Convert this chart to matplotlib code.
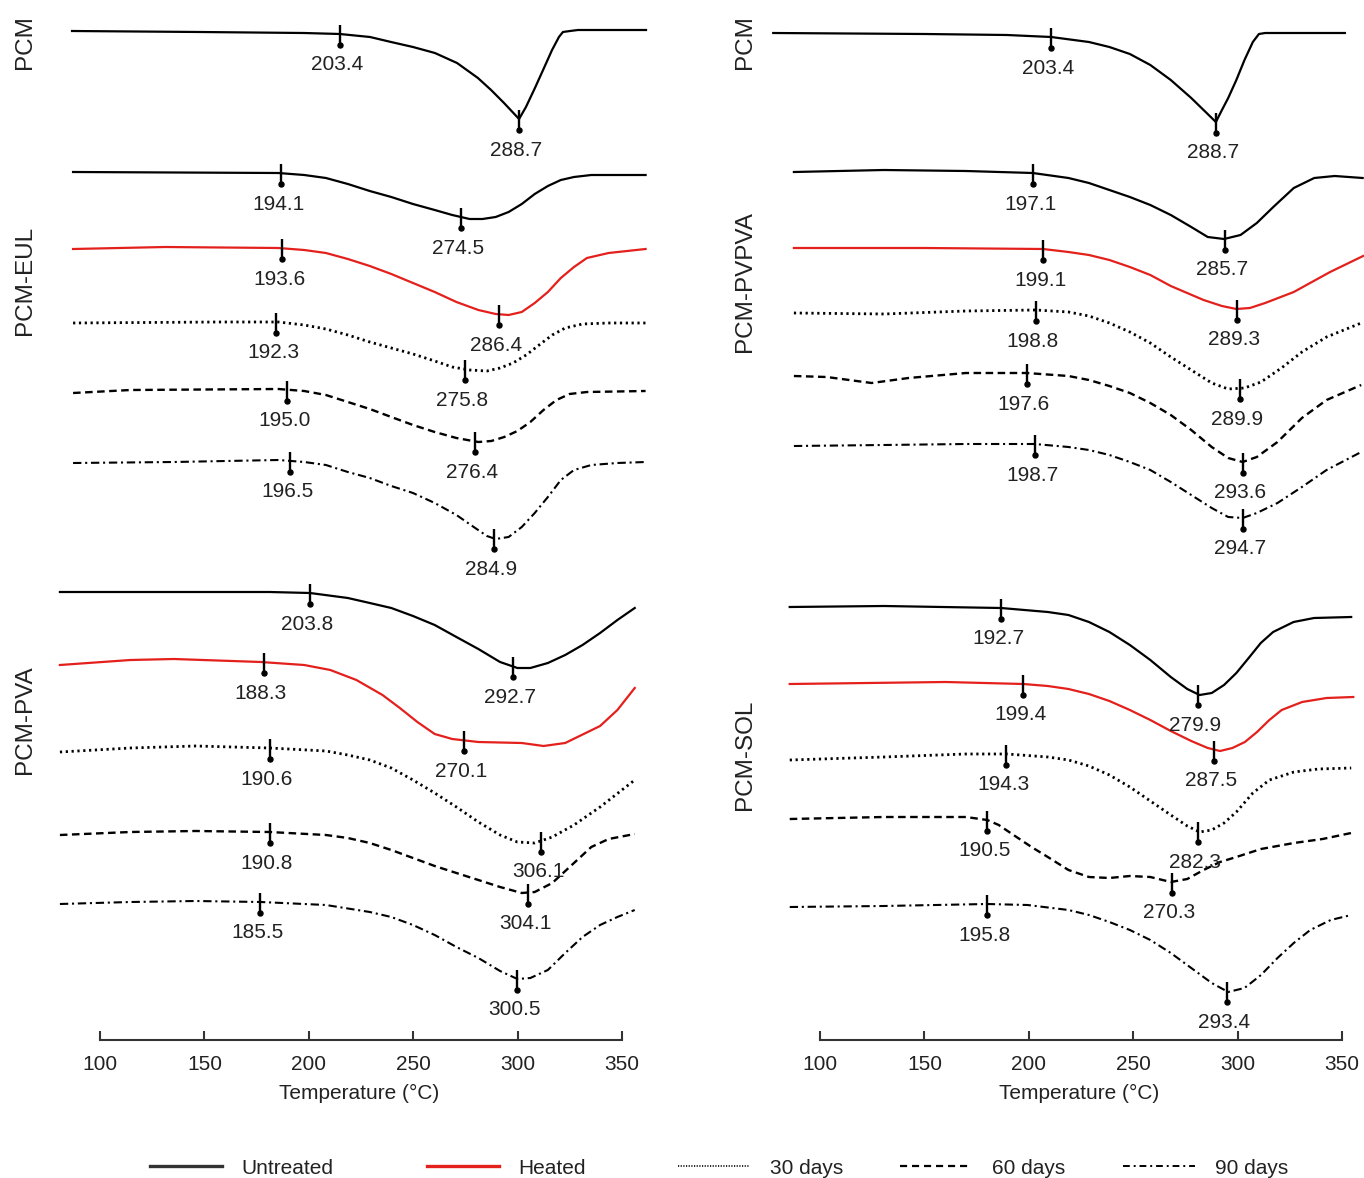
import numpy as np
import matplotlib
matplotlib.use("Agg")
import matplotlib.pyplot as plt
from matplotlib.lines import Line2D

plt.rcParams['font.family'] = ['Liberation Sans', 'DejaVu Sans']

# ---------------- data ----------------
# temperatures in degC, heat flow in a.u. (relative to each curve's start)
series_names = ["Untreated", "Heated", "30 days", "60 days", "90 days"]

# left column, top: PCM
pcm_l_T = [86.6, 147.9, 197.7, 214.9, 229.3, 239.4, 249.9, 260.4, 271.0, 281.0, 287.3, 293.5, 300.7,
           304.0, 308.3, 312.2, 316.5, 319.8, 321.7, 325.1, 328.9, 361.5]
pcm_l_hf = [0, -1, -2, -3, -6, -11, -16, -22, -32, -47, -59, -72, -88,
            -76, -57, -39, -19, -6, -1, 0, 1, 1]

# PCM-EUL
eul_untreated_T = [87.1, 185.4, 197.8, 208.2, 218.7, 229.2, 239.5, 249.9, 260.3, 268.7, 277.0, 283.2, 289.5,
                   295.7, 302.0, 308.2, 314.5, 320.7, 327.0, 335.3, 361.3]
eul_untreated_hf = [0, -1, -3, -6, -12, -19, -25, -32, -38, -43, -47, -47, -45,
                    -40, -32, -22, -14, -8, -5, -3, -3]
eul_heated_T = [87.1, 131.2, 185.4, 197.8, 208.2, 218.7, 229.2, 239.5, 249.9, 260.3, 270.7, 281.2, 289.5,
                295.7, 302.0, 308.2, 314.5, 320.7, 327.0, 333.2, 343.6, 361.3]
eul_heated_hf = [0, 2, 1, -1, -4, -10, -17, -25, -34, -43, -53, -61, -65,
                 -66, -63, -54, -43, -29, -18, -9, -4, 0]
eul_30d_T = [87.1, 156.2, 185.4, 197.8, 208.2, 218.7, 229.2, 239.5, 249.9, 260.3, 268.7, 277.0, 285.3,
             291.6, 297.8, 304.1, 310.3, 316.6, 322.8, 331.1, 343.6, 361.3]
eul_30d_hf = [0, 1, 1, -2, -6, -12, -19, -25, -31, -38, -44, -47, -48,
              -45, -40, -32, -22, -12, -5, -1, 0, 0]
eul_60d_T = [87.1, 114.6, 185.4, 197.8, 208.2, 218.7, 229.2, 239.5, 249.9, 260.3, 270.7, 281.2, 287.4,
             293.6, 299.9, 306.1, 312.4, 318.6, 324.9, 333.2, 361.3]
eul_60d_hf = [0, 3, 4, 2, -2, -9, -16, -24, -32, -39, -45, -49, -48,
              -44, -38, -29, -17, -7, -1, 1, 2]
eul_90d_T = [87.1, 135.4, 185.4, 197.8, 208.2, 218.7, 229.2, 239.5, 249.9, 260.3, 270.7, 279.0, 285.3,
             289.5, 295.7, 302.0, 308.2, 314.5, 320.7, 327.0, 335.3, 347.8, 361.3]
eul_90d_hf = [0, 1, 3, 1, -2, -9, -15, -23, -30, -40, -52, -64, -73,
              -76, -74, -64, -50, -34, -17, -7, -2, 0, 1]

# PCM-PVA
pva_untreated_T = [80.8, 135.4, 181.2, 200.6, 218.7, 229.2, 239.5, 249.9, 260.3, 270.7, 281.2, 291.6, 299.9,
                   306.1, 314.5, 322.8, 331.1, 339.5, 347.8, 356.1]
pva_untreated_hf = [0, 0, 0, -1, -6, -11, -16, -24, -33, -45, -57, -70, -76,
                    -76, -71, -63, -53, -41, -28, -16]
pva_heated_T = [80.8, 114.6, 135.4, 177.0, 197.8, 210.3, 222.8, 235.3, 243.6, 252.0, 260.3, 268.7, 281.2,
                302.0, 312.4, 322.8, 339.5, 347.8, 356.1]
pva_heated_hf = [0, 5, 6, 3, 0, -5, -15, -30, -43, -57, -69, -74, -77,
                 -78, -81, -78, -61, -45, -23]
pva_30d_T = [80.8, 114.6, 145.8, 181.2, 208.2, 218.7, 229.2, 239.5, 249.9, 260.3, 270.7, 281.2, 291.6,
             299.9, 308.2, 316.6, 327.0, 339.5, 356.1]
pva_30d_hf = [0, 4, 6, 4, 1, -3, -8, -16, -28, -41, -55, -70, -83,
              -90, -91, -85, -73, -55, -28]
pva_60d_T = [80.8, 114.6, 145.8, 181.2, 208.2, 218.7, 229.2, 239.5, 249.9, 260.3, 270.7, 281.2, 291.6,
             302.0, 308.2, 316.6, 327.0, 335.3, 343.6, 356.1]
pva_60d_hf = [0, 3, 4, 3, 0, -3, -8, -15, -23, -31, -38, -45, -52,
              -58, -57, -48, -28, -12, -4, 1]
pva_90d_T = [80.8, 114.6, 145.8, 177.0, 208.2, 229.2, 239.5, 249.9, 260.3, 270.7, 281.2, 291.6, 299.9,
             306.1, 314.5, 322.8, 331.1, 339.5, 347.8, 356.1]
pva_90d_hf = [0, 2, 3, 2, -1, -8, -13, -21, -31, -43, -54, -67, -75,
              -74, -66, -49, -33, -21, -13, -6]

# right column, top: PCM
pcm_r_T = [77.6, 150.2, 189.5, 210.7, 228.8, 238.6, 248.4, 258.2, 268.0, 277.8, 283.7, 289.6, 292.5,
           295.5, 299.4, 303.3, 307.3, 310.2, 313.2, 351.4]
pcm_r_hf = [0, -1, -2, -4, -9, -14, -21, -32, -47, -65, -77, -89, -77,
            -65, -47, -27, -9, -1, 0, 0]

# PCM-PVPVA
pvpva_untreated_T = [87.5, 130.6, 169.9, 201.9, 219.0, 228.8, 238.6, 248.4, 258.2, 268.0, 277.8, 285.7, 293.5,
                     301.4, 309.2, 317.1, 326.9, 336.7, 346.5, 359.9]
pvpva_untreated_hf = [0, 2, 1, -1, -6, -11, -18, -25, -33, -43, -55, -65, -67,
                      -63, -51, -35, -16, -6, -4, -6]
pvpva_heated_T = [87.5, 150.2, 206.8, 219.0, 228.8, 238.6, 248.4, 258.2, 268.0, 283.7, 292.5, 299.4, 305.9,
                  313.2, 326.9, 344.3, 360.1]
pvpva_heated_hf = [0, 0, -1, -4, -7, -12, -19, -27, -38, -52, -58, -61, -60,
                   -55, -44, -24, -8]
pvpva_30d_T = [87.5, 130.6, 169.9, 203.3, 219.0, 228.8, 238.6, 248.4, 258.2, 268.0, 277.8, 287.6, 295.5,
               303.3, 311.2, 321.0, 330.8, 342.6, 359.2]
pvpva_30d_hf = [0, -1, 2, 3, 1, -3, -10, -19, -30, -44, -57, -70, -76,
                -75, -69, -55, -39, -24, -10]
pvpva_60d_T = [87.5, 103.2, 124.7, 142.4, 169.9, 199.0, 219.0, 228.8, 238.6, 248.4, 258.2, 268.0, 277.8,
               287.6, 295.5, 302.4, 309.2, 319.1, 330.8, 342.6, 359.2]
pvpva_60d_hf = [0, -1, -7, -2, 3, 3, 0, -4, -10, -17, -27, -39, -54,
                -71, -82, -86, -81, -66, -42, -24, -9]
pvpva_90d_T = [87.5, 130.6, 169.9, 202.9, 219.0, 228.8, 238.6, 248.4, 258.2, 268.0, 277.8, 287.6, 295.5,
               302.4, 309.2, 319.1, 330.8, 342.6, 359.2]
pvpva_90d_hf = [0, 1, 2, 2, -1, -4, -9, -16, -24, -36, -49, -62, -71,
                -72, -67, -57, -41, -24, -6]

# PCM-SOL
sol_untreated_T = [85.5, 130.6, 186.7, 209.1, 219.0, 228.8, 238.6, 248.4, 258.2, 268.0, 275.9, 281.8, 287.6,
                   293.5, 299.4, 305.3, 311.1, 317.0, 326.8, 336.6, 354.4]
sol_untreated_hf = [0, 1, -1, -5, -8, -15, -25, -38, -53, -70, -82, -88, -86,
                    -78, -66, -51, -36, -25, -15, -11, -10]
sol_heated_T = [85.5, 160.1, 197.4, 209.1, 219.0, 228.8, 238.6, 248.4, 258.2, 268.0, 277.8, 285.7, 291.6,
                297.5, 303.5, 309.3, 315.2, 321.1, 330.9, 342.6, 355.4]
sol_heated_hf = [0, 2, 0, -2, -5, -10, -17, -26, -36, -47, -57, -64, -67,
                 -64, -58, -48, -36, -26, -18, -14, -13]
sol_30d_T = [85.5, 130.6, 169.9, 189.5, 209.1, 219.0, 228.8, 238.6, 248.4, 258.2, 268.0, 275.9, 281.8,
             287.6, 293.5, 299.4, 307.3, 315.2, 327.0, 338.7, 354.4]
sol_30d_hf = [0, 3, 6, 6, 3, 0, -6, -15, -27, -41, -55, -66, -72,
              -70, -63, -52, -33, -20, -12, -9, -8]
sol_60d_T = [85.5, 130.6, 169.9, 180.1, 185.6, 193.4, 201.3, 209.1, 219.0, 228.8, 238.6, 248.4, 258.2,
             268.0, 275.9, 283.7, 291.6, 299.4, 311.2, 327.0, 340.7, 354.4]
sol_60d_hf = [0, 2, 2, -1, -6, -17, -28, -38, -51, -58, -59, -57, -58,
              -63, -60, -51, -43, -38, -30, -24, -20, -14]
sol_90d_T = [85.5, 130.6, 180.1, 199.4, 219.0, 228.8, 238.6, 248.4, 258.2, 268.0, 277.8, 287.6, 295.5,
             303.3, 311.2, 319.1, 326.9, 334.8, 344.6, 354.4]
sol_90d_hf = [0, 1, 3, 2, -3, -8, -15, -23, -33, -46, -61, -76, -85,
              -81, -68, -51, -36, -23, -13, -8]

# onset / peak values printed on the chart, and where their ticks sit
pcm_labels = [[203.4, 288.7]]
pcm_l_mark_T = [[214.9, 300.7]]
pcm_r_mark_T = [[210.7, 289.6]]
eul_labels = [[194.1, 274.5], [193.6, 286.4], [192.3, 275.8], [195.0, 276.4], [196.5, 284.9]]
eul_mark_T = [[186.7, 272.9], [187.2, 291.1], [184.3, 274.8], [189.6, 279.6], [191.0, 288.7]]
pva_labels = [[203.8, 292.7], [188.3, 270.1], [190.6, 306.1], [190.8, 304.1], [185.5, 300.5]]
pva_mark_T = [[200.6, 297.8], [178.5, 274.3], [181.4, 311.2], [181.4, 305.0], [176.6, 299.7]]
pvpva_labels = [[197.1, 285.7], [199.1, 289.3], [198.8, 289.9], [197.6, 293.6], [198.7, 294.7]]
pvpva_mark_T = [[202.0, 294.0], [206.8, 299.7], [203.4, 301.1], [199.1, 302.6], [203.0, 302.6]]
sol_labels = [[192.7, 279.9], [199.4, 287.5], [194.3, 282.3], [190.5, 270.3], [195.8, 293.4]]
sol_mark_T = [[186.7, 281.0], [197.2, 288.7], [189.1, 281.0], [180.0, 268.6], [180.0, 294.9]]

x_ticks = [100, 150, 200, 250, 300, 350]

# ---------------- layout / style ----------------
W, H = 1364, 1178
px_per_deg = 2.088
axis_y = -1040
# vertical stacking of the curves
pcm_l_offset = [-31]
eul_offsets = [-172, -249, -323, -393, -463]
pva_offsets = [-592, -665, -752, -835, -904]
pcm_r_offset = [-33]
pvpva_offsets = [-172, -248, -313, -376, -446]
sol_offsets = [-607, -684, -760, -819, -907]

RED = '#e3201c'
styles = [
    dict(color='black', lw=1.6, ls='-'),
    dict(color=RED, lw=1.6, ls='-'),
    dict(color='black', lw=2.0, ls=(0, (0.8, 1.3))),
    dict(color='black', lw=1.7, ls=(0, (3.2, 1.9))),
    dict(color='black', lw=1.5, ls=(0, (4.0, 1.8, 1.0, 1.8))),
]

fig = plt.figure(figsize=(W / 100, H / 100), dpi=100)
ax_l = fig.add_axes([0, 0, 682 / W, 1])
ax_r = fig.add_axes([720 / W, 0, 644 / W, 1])
t0 = 100 - 100 / px_per_deg
ax_l.set_xlim(t0, t0 + 682 / px_per_deg)
ax_r.set_xlim(t0, t0 + 644 / px_per_deg)


def draw_panel(ax, curves, offsets, labels, mark_T, style_idx):
    for (T, hf), off, labs, mts, si in zip(curves, offsets, labels, mark_T, style_idx):
        y = np.array(hf) + off
        ax.plot(T, y, solid_joinstyle='round', dash_joinstyle='round', clip_on=False,
                **styles[si])
        for val, mt in zip(labs, mts):
            yc = np.interp(mt, T, y)
            ax.plot([mt, mt], [yc + 9, yc - 11], color='black', lw=1.7,
                    solid_capstyle='butt')
            ax.plot(mt, yc - 11, 'o', color='black', ms=3.6)
            ax.text(mt - 1.4, yc - 31, f"{val:.1f}", ha='center', va='center',
                    fontsize=15, color='#222')


draw_panel(ax_l, [(pcm_l_T, pcm_l_hf)], pcm_l_offset, pcm_labels, pcm_l_mark_T, [0])
draw_panel(ax_l,
           [(eul_untreated_T, eul_untreated_hf), (eul_heated_T, eul_heated_hf),
            (eul_30d_T, eul_30d_hf), (eul_60d_T, eul_60d_hf), (eul_90d_T, eul_90d_hf)],
           eul_offsets, eul_labels, eul_mark_T, range(5))
draw_panel(ax_l,
           [(pva_untreated_T, pva_untreated_hf), (pva_heated_T, pva_heated_hf),
            (pva_30d_T, pva_30d_hf), (pva_60d_T, pva_60d_hf), (pva_90d_T, pva_90d_hf)],
           pva_offsets, pva_labels, pva_mark_T, range(5))

draw_panel(ax_r, [(pcm_r_T, pcm_r_hf)], pcm_r_offset, pcm_labels, pcm_r_mark_T, [0])
draw_panel(ax_r,
           [(pvpva_untreated_T, pvpva_untreated_hf), (pvpva_heated_T, pvpva_heated_hf),
            (pvpva_30d_T, pvpva_30d_hf), (pvpva_60d_T, pvpva_60d_hf), (pvpva_90d_T, pvpva_90d_hf)],
           pvpva_offsets, pvpva_labels, pvpva_mark_T, range(5))
draw_panel(ax_r,
           [(sol_untreated_T, sol_untreated_hf), (sol_heated_T, sol_heated_hf),
            (sol_30d_T, sol_30d_hf), (sol_60d_T, sol_60d_hf), (sol_90d_T, sol_90d_hf)],
           sol_offsets, sol_labels, sol_mark_T, range(5))

# panel names
for ax, names in [(ax_l, [("PCM", -42), ("PCM-EUL", -280), ("PCM-PVA", -720)]),
                  (ax_r, [("PCM", -42), ("PCM-PVPVA", -282), ("PCM-SOL", -755)])]:
    for name, yy in names:
        ax.text(64.1, yy, name, rotation=90, ha='center', va='center',
                fontsize=17.5, color='#222')

# temperature axes
for ax in (ax_l, ax_r):
    ax.set_ylim(-H, 0)
    ax.patch.set_visible(False)
    for s in ('top', 'left', 'right'):
        ax.spines[s].set_visible(False)
    sp = ax.spines['bottom']
    sp.set_position(('data', axis_y))
    sp.set_bounds(x_ticks[0], x_ticks[-1])
    sp.set_linewidth(1.5)
    sp.set_color('#333')
    ax.set_xticks(x_ticks)
    ax.set_yticks([])
    ax.tick_params(axis='x', direction='in', length=6.5, width=1.5, color='#333',
                   pad=11, labelsize=15, labelcolor='#222')
    ax.text(224, -1093, "Temperature (°C)", ha='center', va='center',
            fontsize=15, color='#222')

# legend: one entry per block, spaced as in the figure
legend_x = [150, 427, 678, 900, 1123]
legend_handles = [
    Line2D([], [], color='#333', lw=2.4),
    Line2D([], [], color=RED, lw=2.4),
    Line2D([], [], color='black', lw=1.2, ls=(0, (0.7, 0.9))),
    Line2D([], [], color='black', lw=1.6, ls=(0, (3.2, 2.2))),
    Line2D([], [], color='black', lw=1.4, ls=(0, (3.5, 2.0, 1.0, 2.0))),
]
for hnd, name, lx in zip(legend_handles, series_names, legend_x):
    lg = fig.legend(handles=[hnd], labels=[name], loc='center left',
                    bbox_to_anchor=(lx / W, 1 - 1168 / H), frameon=False, fontsize=15,
                    handlelength=3.45, handletextpad=0.95, borderpad=0, borderaxespad=0,
                    labelcolor='#222')

fig.savefig("out.png", dpi=100)
